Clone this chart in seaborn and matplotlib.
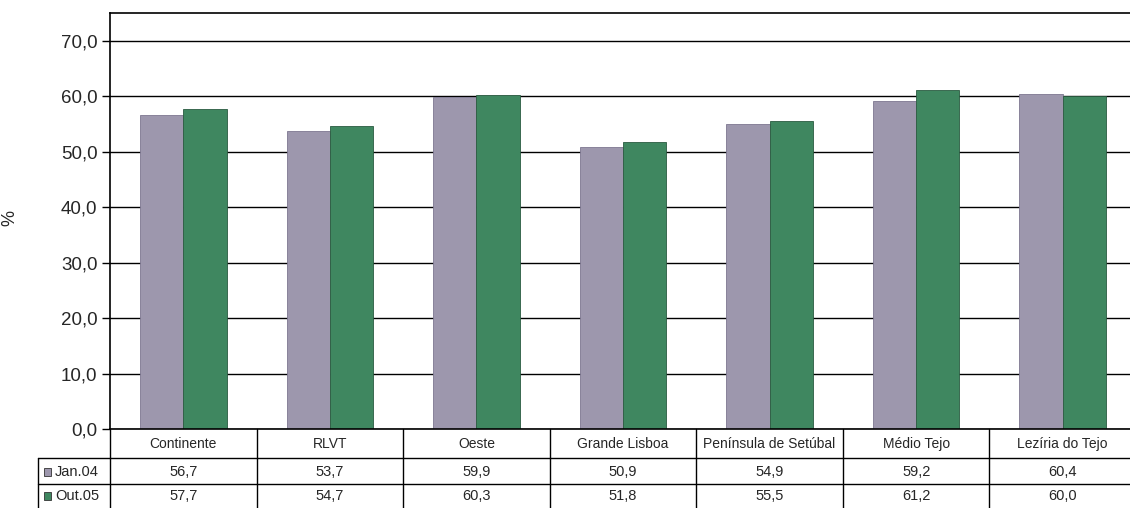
import matplotlib
matplotlib.use("Agg")
import matplotlib.pyplot as plt
import matplotlib.transforms as mtransforms
from matplotlib.patches import Rectangle
import seaborn as sns
import pandas as pd

regions = ["Continente", "RLVT", "Oeste", "Grande Lisboa",
           "Península de Setúbal", "Médio Tejo", "Lezíria do Tejo"]
series_names = ["Jan.04", "Out.05"]
jan04 = [56.7, 53.7, 59.9, 50.9, 54.9, 59.2, 60.4]
out05 = [57.7, 54.7, 60.3, 51.8, 55.5, 61.2, 60.0]
yticks = [0, 10, 20, 30, 40, 50, 60, 70]
colors = ["#9d97ad", "#3f8760"]
edges = ["#7d7790", "#2a5a40"]

df = pd.DataFrame({
    "region": regions * 2,
    "period": [series_names[0]] * len(regions) + [series_names[1]] * len(regions),
    "value": jan04 + out05,
})

sns.set_theme(style="white")
plt.rcParams["font.family"] = ["Liberation Sans", "DejaVu Sans"]

W, H = 1130, 508
fig = plt.figure(figsize=(W / 100, H / 100), dpi=100)
ax_left, ax_right, ax_top, ax_bottom = 110, 1136, 13, 429
ax = fig.add_axes([ax_left / W, 1 - ax_bottom / H,
                   (ax_right - ax_left) / W, (ax_bottom - ax_top) / H])

sns.barplot(data=df, x="region", y="value", hue="period", order=regions,
            hue_order=series_names, palette=colors, saturation=1,
            width=0.59, gap=0, ax=ax, legend=False)
for i, cont in enumerate(ax.containers):
    for bar in cont:
        bar.set_edgecolor(edges[i])
        bar.set_linewidth(0.6)

ax.set_ylim(0, 75)
ax.set_xlim(-0.5, len(regions) - 0.5)
ax.set_yticks(yticks)
ax.set_yticklabels([f"{v:.1f}".replace(".", ",") for v in yticks], fontsize=13.5)
ax.yaxis.grid(True, color="black", linewidth=1.0)
ax.set_axisbelow(True)
ax.tick_params(axis="y", which="major", direction="out", length=6, width=1,
               color="black", pad=3, left=True)
ax.tick_params(axis="x", length=0, labelbottom=False)
ax.set_xlabel("")
ax.set_ylabel("%", fontsize=13)
ax.yaxis.set_label_coords((18 - ax_left) / (ax_right - ax_left), (ax_bottom - 218) / (ax_bottom - ax_top))
for s in ["left", "top", "bottom"]:
    ax.spines[s].set_visible(True)
    ax.spines[s].set_color("black")
    ax.spines[s].set_linewidth(1.2)
ax.spines["right"].set_visible(False)

# ---- data table below the axes ----
tr = mtransforms.blended_transform_factory(ax.transData, ax.transAxes)
hpx = ax_bottom - ax_top
def yf(py):
    return (ax_bottom - py) / hpx

y_head_bot = yf(458)
y_row1_bot = yf(484)
y_row2_bot = yf(510)
cat_w = (ax_right - ax_left) / len(regions)
x_lab_left = -0.5 - (ax_left - 38) / cat_w
x_end = len(regions) - 0.5
tfont = ["Liberation Sans", "DejaVu Sans"]
lc = "black"
lw = 1.0

for k in range(len(regions) + 1):
    x = k - 0.5
    ax.plot([x, x], [0, y_row2_bot], transform=tr, color=lc, lw=lw, clip_on=False)
for yy in [y_head_bot, y_row1_bot]:
    ax.plot([x_lab_left, x_end], [yy, yy], transform=tr, color=lc, lw=lw, clip_on=False)
ax.plot([x_lab_left, x_lab_left], [y_head_bot, y_row2_bot], transform=tr,
        color=lc, lw=lw, clip_on=False)

for i, name in enumerate(regions):
    ax.text(i, yf(444), name, transform=tr, ha="center", va="center",
            fontsize=10, family=tfont, clip_on=False)
    ax.text(i, yf(472), f"{jan04[i]:.1f}".replace(".", ","),
            transform=tr, ha="center", va="center", fontsize=10.5, family=tfont, clip_on=False)
    ax.text(i, yf(496), f"{out05[i]:.1f}".replace(".", ","),
            transform=tr, ha="center", va="center", fontsize=10.5, family=tfont, clip_on=False)

rows_y = [yf(472), yf(496)]
sq = 7 / cat_w
for j, nm in enumerate(series_names):
    ax.add_patch(Rectangle((x_lab_left + 6 / cat_w, rows_y[j] - 0.0085), sq, 0.017,
                           transform=tr, facecolor=colors[j], edgecolor="#333333",
                           linewidth=0.6, clip_on=False))
    ax.text(x_lab_left + 17 / cat_w, rows_y[j], nm, transform=tr, ha="left",
            va="center", fontsize=10.5, family=tfont, clip_on=False)

fig.savefig("out.png", dpi=100)
